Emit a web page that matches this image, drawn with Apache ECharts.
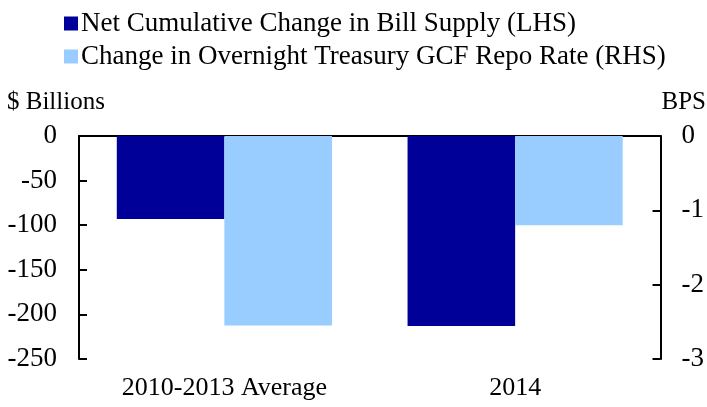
<!DOCTYPE html>
<html>
<head>
<meta charset="utf-8">
<script src="https://cdn.jsdelivr.net/npm/echarts@6/dist/echarts.min.js"></script>
<style>
  html, body { margin: 0; padding: 0; background: #fff; }
  #chart { width: 707px; height: 407px; }
</style>
</head>
<body>
<div id="chart"></div>
<script>
const categories = ['2010-2013 Average', '2014'];
const billSupply = [-93, -213];        // $ billions, LHS
const repoRateChange = [-2.55, -1.2];  // bps, RHS
const leftTicks = { min: -250, max: 0, interval: 50 };
const rightTicks = { min: -3, max: 0, interval: 1 };

const FONT = '"Liberation Serif", "Times New Roman", serif';
const DARK = '#000099';
const LIGHT = '#99ccff';

const chart = echarts.init(document.getElementById('chart'));

const axisLine = { show: true, lineStyle: { color: '#000', width: 2 } };
const axisTick = { show: true, inside: true, length: 8, lineStyle: { color: '#000', width: 2 } };

chart.setOption({
  animation: false,
  textStyle: { fontFamily: FONT },
  legend: {
    orient: 'vertical',
    left: 59,
    top: 5,
    itemWidth: 14,
    itemHeight: 14,
    itemGap: 6,
    icon: 'rect',
    textStyle: { fontFamily: FONT, fontSize: 27, color: '#000', padding: [0, 0, 0, -2] },
    data: ['Net Cumulative Change in Bill Supply (LHS)', 'Change in Overnight Treasury GCF Repo Rate (RHS)']
  },
  grid: { left: 79, right: 46, top: 136, bottom: 48 },
  xAxis: [
    {
      type: 'category',
      data: categories,
      position: 'bottom',
      axisLine: { show: false },
      axisTick: { show: false },
      axisLabel: { fontFamily: FONT, fontSize: 26, color: '#000', margin: 16 }
    },
    {
      type: 'category',
      data: categories,
      position: 'top',
      axisLine: axisLine,
      axisTick: { show: false },
      axisLabel: { show: false }
    }
  ],
  yAxis: [
    {
      type: 'value',
      min: leftTicks.min, max: leftTicks.max, interval: leftTicks.interval,
      position: 'left',
      axisLine: axisLine,
      axisTick: axisTick,
      splitLine: { show: false },
      axisLabel: { fontFamily: FONT, fontSize: 27, color: '#000', margin: 22 }
    },
    {
      type: 'value',
      min: rightTicks.min, max: rightTicks.max, interval: rightTicks.interval,
      position: 'right',
      axisLine: axisLine,
      axisTick: axisTick,
      splitLine: { show: false },
      axisLabel: { fontFamily: FONT, fontSize: 27, color: '#000', margin: 21 }
    }
  ],
  graphic: [
    { type: 'text', left: 7, top: 90, style: { text: '$ Billions', font: '25px ' + FONT, fill: '#000' } },
    { type: 'text', right: 1, top: 90, style: { text: 'BPS', font: '25px ' + FONT, fill: '#000' } }
  ],
  series: [
    {
      name: 'Net Cumulative Change in Bill Supply (LHS)',
      type: 'bar',
      yAxisIndex: 0,
      data: billSupply,
      barGap: '0%',
      barCategoryGap: '26%',
      itemStyle: { color: DARK }
    },
    {
      name: 'Change in Overnight Treasury GCF Repo Rate (RHS)',
      type: 'bar',
      yAxisIndex: 1,
      data: repoRateChange,
      barGap: '0%',
      barCategoryGap: '26%',
      itemStyle: { color: LIGHT }
    }
  ]
});
</script>
</body>
</html>
